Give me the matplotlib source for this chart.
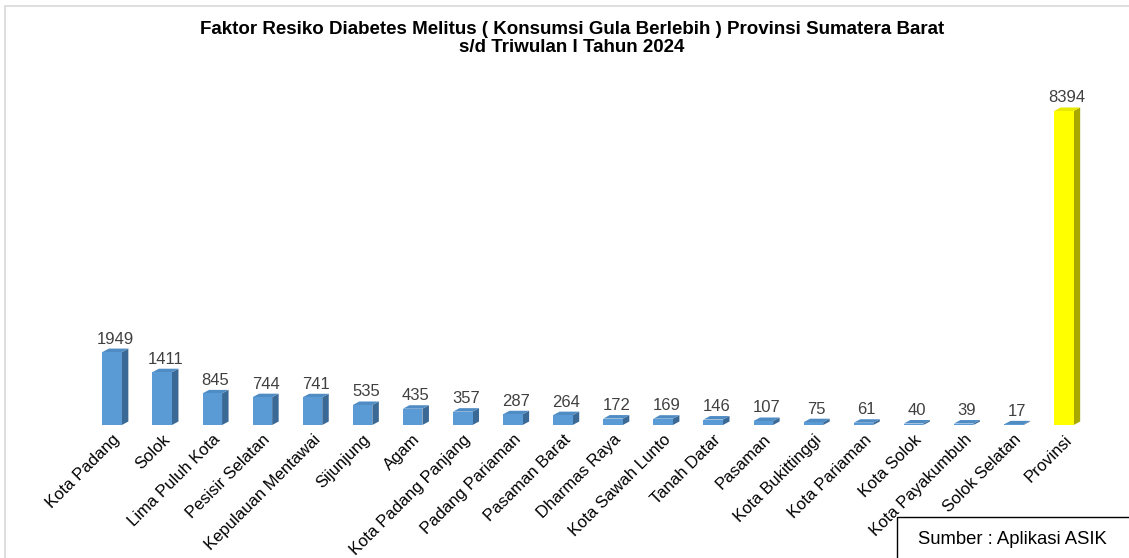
import matplotlib
matplotlib.use("Agg")
import matplotlib.pyplot as plt
from matplotlib.patches import Polygon, Rectangle
import numpy as np

plt.rcParams.update({"font.family": ["Liberation Sans", "DejaVu Sans"]})

# data
REGIONS = ["Kota Padang", "Solok", "Lima Puluh Kota", "Pesisir Selatan",
           "Kepulauan Mentawai", "Sijunjung", "Agam", "Kota Padang Panjang",
           "Padang Pariaman", "Pasaman Barat", "Dharmas Raya", "Kota Sawah Lunto",
           "Tanah Datar", "Pasaman", "Kota Bukittinggi", "Kota Pariaman",
           "Kota Solok", "Kota Payakumbuh", "Solok Selatan", "Provinsi"]
VALUES = [1949, 1411, 845, 744, 741, 535, 435, 357, 287, 264, 172, 169,
          146, 107, 75, 61, 40, 39, 17, 8394]
TITLE_1 = "Faktor Resiko Diabetes Melitus ( Konsumsi Gula Berlebih ) Provinsi Sumatera Barat"
TITLE_2 = "s/d Triwulan I Tahun 2024"
SOURCE = "Sumber : Aplikasi ASIK"

W, H = 1129, 558
fig = plt.figure(figsize=(W / 100, H / 100), dpi=100)

# light outer frame
fig.patches.append(Rectangle((5 / W, -0.02), 1.2, (H - 6) / H + 0.02,
                             transform=fig.transFigure, fill=False,
                             ec="#d9d9d9", lw=1.2))

ax_l, ax_b, ax_w, ax_h = 62 / W, (H - 425) / H, (1114 - 62) / W, 345 / H
ax = fig.add_axes([ax_l, ax_b, ax_w, ax_h])
ax.set_xlim(-1, len(VALUES))
ax.set_ylim(0, 9222)
ax.axis("off")

x = np.arange(len(VALUES))
bw = 0.39
# depth of the 3d look in data units (about 6.5 px right, 3.5 px up)
ddx = 6.5 / (ax_w * W) * (len(VALUES) + 1)
ddy = 3.5 / (ax_h * H) * 9222

for i, (xi, v) in enumerate(zip(x, VALUES)):
    prov = REGIONS[i] == "Provinsi"
    front = "#ffff00" if prov else "#5b9bd5"
    side = "#a8a800" if prov else "#3b6996"
    top = "#e8e800" if prov else "#4f8cc4"
    xl, xr = xi - bw / 2, xi + bw / 2
    ax.add_patch(Polygon([(xr, 0), (xr, v), (xr + ddx, v + ddy), (xr + ddx, ddy)],
                         closed=True, fc=side, ec="none"))
    ax.add_patch(Polygon([(xl, v), (xr, v), (xr + ddx, v + ddy), (xl + ddx, v + ddy)],
                         closed=True, fc=top, ec="none"))
    ax.bar(xi, v, bw, color=front, edgecolor="none")
    ax.annotate(f"{v}", (xi + ddx / 2, v + ddy), xytext=(0, 1.5),
                textcoords="offset points", ha="center", va="bottom",
                fontsize=12, color="#404040")
    ax.annotate(REGIONS[i], (xi, 0), xytext=(0, -5),
                textcoords="offset points", ha="right", va="top",
                rotation=45, rotation_mode="anchor", fontsize=12,
                color="#000000", annotation_clip=False)

fig.text(572 / W, 1 - 29 / H, TITLE_1, ha="center", va="center",
         fontsize=13.5, fontweight="bold")
fig.text(572 / W, 1 - 48 / H, TITLE_2, ha="center", va="center",
         fontsize=13.5, fontweight="bold")

# source box at the bottom right
fig.patches.append(Rectangle((897 / W, -0.01), 0.3, (H - 517) / H + 0.01,
                             transform=fig.transFigure, fill=True, fc="white",
                             ec="black", lw=1))
fig.text(1012 / W, 1 - 540 / H, SOURCE, ha="center", va="center", fontsize=13.3)

fig.savefig("out.png", dpi=100)
